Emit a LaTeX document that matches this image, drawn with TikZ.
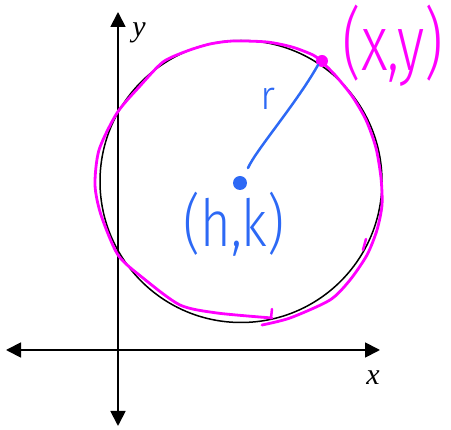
\documentclass[tikz,border=0pt]{standalone}
\usepackage{fontspec}
\setmainfont{Liberation Serif}
\newfontfamily\hand{Fira Sans}[UprightFont=* Light]
\usetikzlibrary{arrows.meta}
\definecolor{mag}{RGB}{255,0,255}
\definecolor{pen}{RGB}{45,105,245}
\begin{document}
\begin{tikzpicture}[x=1pt,y=-1pt,
  axis/.style={line width=1.8pt,{Triangle[length=15pt,width=15pt]}-{Triangle[length=15pt,width=15pt]}},
  axlabel/.style={font=\fontsize{30}{30}\selectfont\itshape, inner sep=0pt},
  handtext/.style={font=\hand\fontsize{#1}{#1}\selectfont, inner sep=0pt},
  dot/.style={circle, inner sep=0pt, minimum size=#1}]
\useasboundingbox (0,0) rectangle (451,430);
% axes
\coordinate (yb) at (118,426);
\coordinate (yt) at (118,12);
\coordinate (xl) at (6,350);
\coordinate (xr) at (380,350);
\draw[axis] (yb) -- (yt);
\draw[axis] (xl) -- (xr);
\node[axlabel] (ylab) at (139,33) {y};
\node[axlabel] (xlab) at (373,378) {x};
% exact circle
\draw[line width=1.5pt] (241,181.5) circle[radius=141pt];
% hand-drawn circle
\draw[mag, line width=2.8pt, line join=round, line cap=round]
  plot[smooth, tension=0.45] coordinates {
  (272,318) (217,313) (180,305) (143,278) (118,255) (101,215) (95,185)
  (99,150) (117,113) (140,86) (163,62) (187,51) (210,44)
  (233,41) (267,42) (292,47) (313,55) (322,62) (335,75) (352,96) (366,120)
  (376,148) (381,178) (382,205) (377,230) (367,255) (350,280)
  (330,300) (290,318) (262,325)};
\draw[mag, line width=2.5pt, line cap=round] (272,309) -- (271,318);
\draw[mag, line width=2.5pt, line cap=round] (366,239) -- (363,250);
% points
\node[dot=14pt, fill=pen] (c) at (240,183) {};
\node[dot=12pt, fill=mag] (p) at (322,61) {};
% radius
\coordinate (rs) at (248,168);
\coordinate (re) at (318,65);
\draw[pen, line width=2.5pt, line cap=round] (rs) .. controls (256,150) and (296,104) .. (re);
% labels
\node[handtext=40, pen] (rlab) at (268,99) {r};
\node[handtext=50, pen] (hk) at (234,224) {\scalebox{1.05}[1.3]{(h,k)}};
\node[handtext=58, mag] (xy) at (393,46) {\scalebox{1}[1.35]{(x,y)}};
\end{tikzpicture}
\end{document}
